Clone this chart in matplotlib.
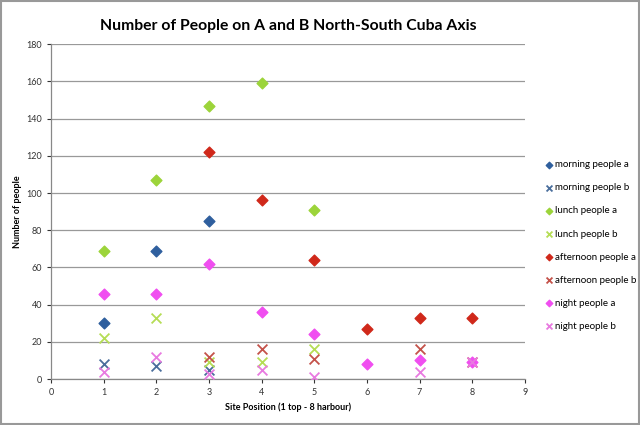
import matplotlib
matplotlib.use("Agg")
import matplotlib.pyplot as plt
from matplotlib.patches import Rectangle

plt.rcParams['font.family'] = ['Lato', 'DejaVu Sans']

# data
morning_a_x = [1, 2, 3]
morning_a_y = [30, 69, 85]
morning_b_x = [1, 2, 3]
morning_b_y = [8, 7, 5]
lunch_a_x = [1, 2, 3, 4, 5]
lunch_a_y = [69, 107, 147, 159, 91]
lunch_b_x = [1, 2, 3, 4, 5]
lunch_b_y = [22, 33, 9, 9, 16]
afternoon_a_x = [3, 4, 5, 6, 7, 8]
afternoon_a_y = [122, 96, 64, 27, 33, 33]
afternoon_b_x = [3, 4, 5, 7, 8]
afternoon_b_y = [12, 16, 11, 16, 9]
night_a_x = [1, 2, 3, 4, 5, 6, 7, 8]
night_a_y = [46, 46, 62, 36, 24, 8, 10, 9]
night_b_x = [1, 2, 3, 4, 5, 7, 8]
night_b_y = [4, 12, 3, 5, 1, 4, 9]

fig = plt.figure(figsize=(6.4, 4.25), dpi=100)
ax = fig.add_axes([0.080, 0.108, 0.740, 0.788])

# series: (x, y, marker, colour, label)
series = [
    (morning_a_x, morning_a_y, 'D', '#2F5F9E', 'morning people a'),
    (morning_b_x, morning_b_y, 'x', '#4A6E9C', 'morning people b'),
    (lunch_a_x, lunch_a_y, 'D', '#9CD43A', 'lunch people a'),
    (lunch_b_x, lunch_b_y, 'x', '#B5DD55', 'lunch people b'),
    (afternoon_a_x, afternoon_a_y, 'D', '#D0281A', 'afternoon people a'),
    (afternoon_b_x, afternoon_b_y, 'x', '#C4524A', 'afternoon people b'),
    (night_a_x, night_a_y, 'D', '#F04EF0', 'night people a'),
    (night_b_x, night_b_y, 'x', '#E87AE0', 'night people b'),
]

for x, y, m, c, lab in series:
    if m == 'D':
        ax.scatter(x, y, marker='D', s=30, color=c, label=lab, zorder=3)
    else:
        ax.scatter(x, y, marker='x', s=50, color=c, linewidths=1.3, label=lab, zorder=3)

ax.set_xlim(0, 9)
ax.set_ylim(0, 180)
ax.set_xticks(range(0, 10))
ax.set_yticks(range(0, 181, 20))
ax.tick_params(labelsize=6.5, colors='#333333', length=3, width=0.8)
ax.tick_params(axis='both', direction='out')
ax.grid(axis='y', color='#999999', linewidth=0.9)
ax.set_axisbelow(True)
for s in ['top', 'right']:
    ax.spines[s].set_visible(False)
for s in ['left', 'bottom']:
    ax.spines[s].set_color('#888888')
    ax.spines[s].set_linewidth(0.9)

ax.set_title('Number of People on A and B North-South Cuba Axis',
             fontsize=11.3, fontweight='bold', pad=10)
ax.set_xlabel('Site Position (1 top - 8 harbour)', fontsize=6.5, fontweight='bold', labelpad=4)
ax.set_ylabel('Number of people', fontsize=6.5, fontweight='bold', labelpad=3)

leg = fig.legend(loc='upper left', bbox_to_anchor=(0.843, 0.632), frameon=False,
                 fontsize=7, handletextpad=0.0, labelspacing=1.45,
                 markerscale=0.6, handlelength=1.2, borderaxespad=0)

fig.patches.append(Rectangle((0.002, 0.002), 0.996, 0.995, transform=fig.transFigure,
                             fill=False, edgecolor='#999999', linewidth=1.5))

fig.savefig('out.png', dpi=100)
